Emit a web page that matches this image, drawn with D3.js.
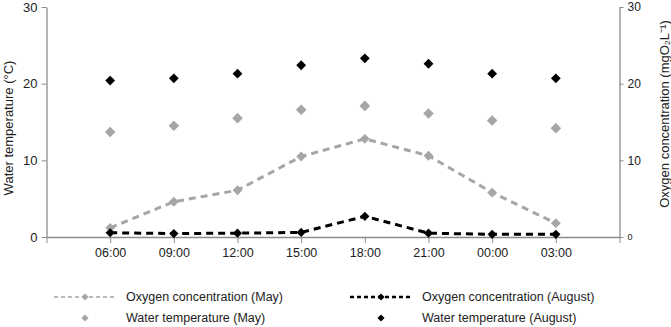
<!DOCTYPE html>
<html>
<head>
<meta charset="utf-8">
<script src="https://cdn.jsdelivr.net/npm/d3@7"></script>
<style>
  body { margin: 0; background: #fff; }
  text { font-family: "Liberation Sans", Arial, sans-serif; fill: #222; }
</style>
</head>
<body>
<div id="chart"></div>
<script>
// dados
const times = ["06:00", "09:00", "12:00", "15:00", "18:00", "21:00", "00:00", "03:00"];
const oxygenMay = [1.2, 4.6, 6.1, 10.5, 12.8, 10.6, 5.8, 1.8];
const oxygenAug = [0.55, 0.45, 0.5, 0.6, 2.7, 0.5, 0.35, 0.35];
const tempMay = [13.7, 14.5, 15.5, 16.6, 17.1, 16.1, 15.2, 14.2];
const tempAug = [20.4, 20.7, 21.3, 22.4, 23.3, 22.6, 21.3, 20.7];
const yTicks = [0, 10, 20, 30];

const W = 671, H = 327;
const svg = d3.select("#chart").append("svg")
  .attr("width", W).attr("height", H);

const grey = "#a6a6a6";
const axisColor = "#8c8c8c";

// escalas
const x = d3.scaleLinear().domain([-1, 8]).range([46.5, 619.5]);
const yLeft = d3.scaleLinear().domain([0, 30]).range([237, 7]);
const yRight = d3.scaleLinear().domain([0, 30]).range([237, 7]);

// eixo x (ticks -1 e 8 fazem a extensão dos eixos verticais)
const xAxis = svg.append("g")
  .attr("transform", `translate(0,${yLeft(0)})`)
  .call(d3.axisBottom(x)
    .tickValues(d3.range(-1, 9))
    .tickSize(6).tickSizeOuter(0).tickPadding(5)
    .tickFormat(i => times[i] || ""));

// eixo esquerdo
const leftAxis = svg.append("g")
  .attr("transform", `translate(${x(-1)},0)`)
  .call(d3.axisLeft(yLeft).tickValues(yTicks).tickSize(5).tickSizeOuter(0).tickPadding(4));

// eixo direito
const rightAxis = svg.append("g")
  .attr("transform", `translate(${x(8)},0)`)
  .call(d3.axisRight(yRight).tickValues(yTicks).tickSize(4).tickSizeOuter(0).tickPadding(4));

[xAxis, leftAxis, rightAxis].forEach(g => {
  g.select(".domain").attr("stroke", axisColor).attr("stroke-width", 1.3);
  g.selectAll(".tick line").attr("stroke", axisColor);
  g.selectAll(".tick text")
    .style("font-family", '"Liberation Sans", Arial, sans-serif')
    .style("font-size", "13px").attr("fill", "#222");
});
xAxis.selectAll(".tick text").style("font-size", "12.5px");
rightAxis.selectAll(".tick text").style("font-size", "12px");
rightAxis.selectAll(".tick text").filter(d => d === 0).style("font-size", "9px");

// títulos dos eixos
svg.append("text")
  .attr("transform", "translate(13,128) rotate(-90)")
  .attr("text-anchor", "middle")
  .style("font-size", "13px")
  .text("Water temperature (°C)");

svg.append("text")
  .attr("transform", "translate(669,114) rotate(-90)")
  .attr("text-anchor", "middle")
  .style("font-size", "13px")
  .text("Oxygen concentration (mgO₂L⁻¹)");

// linhas
const lineLeft = d3.line().x((d, i) => x(i)).y(d => yRight(d));

svg.append("path")
  .attr("d", lineLeft(oxygenMay))
  .attr("fill", "none").attr("stroke", grey)
  .attr("stroke-width", 3).attr("stroke-dasharray", "7,5");

svg.append("path")
  .attr("d", lineLeft(oxygenAug))
  .attr("fill", "none").attr("stroke", "#000")
  .attr("stroke-width", 3).attr("stroke-dasharray", "7,5");

// marcadores (losangos)
const diamond = size => d3.symbol().type(d3.symbolSquare).size(size);

function drawMarkers(values, scale, color, size) {
  svg.append("g").selectAll("path")
    .data(values)
    .join("path")
    .attr("d", diamond(size))
    .attr("transform", (d, i) => `translate(${x(i)},${scale(d)}) rotate(45)`)
    .attr("fill", color);
}

drawMarkers(tempMay, yLeft, grey, 56);
drawMarkers(tempAug, yLeft, "#000", 48);
drawMarkers(oxygenMay, yRight, grey, 48);
drawMarkers(oxygenAug, yRight, "#000", 42);

// legenda
const legendItems = [
  { label: "Oxygen concentration (May)", color: grey, line: true, lx: 54, ly: 297 },
  { label: "Oxygen concentration (August)", color: "#000", line: true, lx: 350, ly: 297 },
  { label: "Water temperature (May)", color: grey, line: false, lx: 54, ly: 318 },
  { label: "Water temperature (August)", color: "#000", line: false, lx: 350, ly: 318 }
];

const legend = svg.selectAll(".legend")
  .data(legendItems)
  .join("g")
  .attr("class", "legend")
  .attr("transform", d => `translate(${d.lx},${d.ly})`);

legend.filter(d => d.line).append("line")
  .attr("x1", 0).attr("x2", 62)
  .attr("stroke", d => d.color)
  .attr("stroke-width", d => d.color === "#000" ? 2.5 : 1.5)
  .attr("stroke-dasharray", "4,3");

legend.append("path")
  .attr("d", diamond(26))
  .attr("transform", "translate(31,0) rotate(45)")
  .attr("fill", d => d.color);

legend.append("text")
  .attr("x", 72)
  .attr("dy", "0.35em")
  .style("font-size", "12.5px")
  .text(d => d.label);
</script>
</body>
</html>
